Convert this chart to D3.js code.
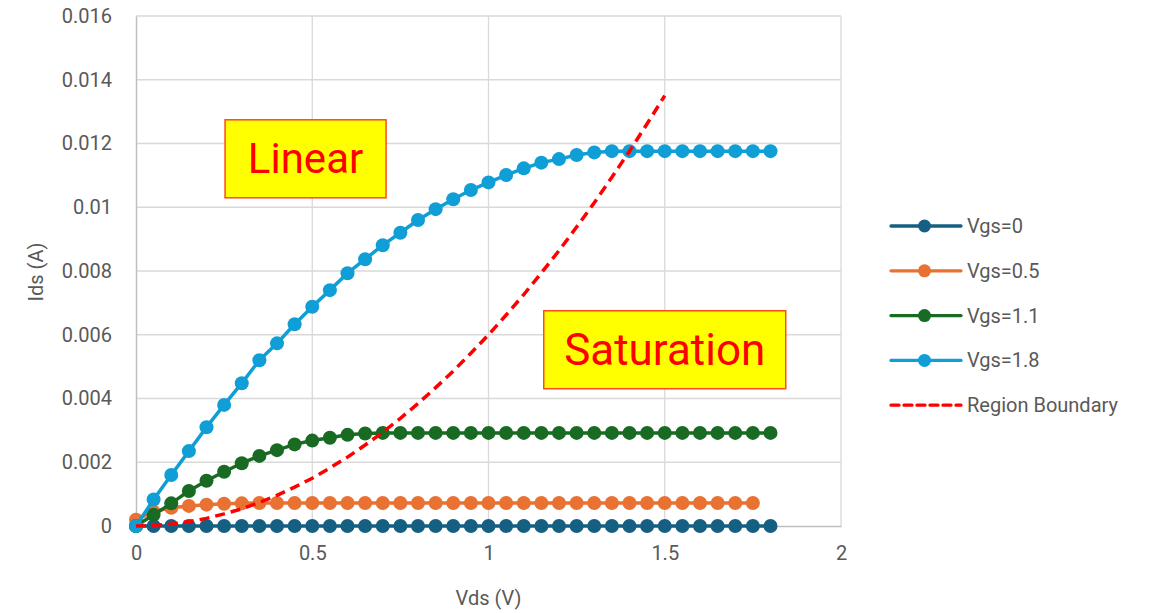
<!DOCTYPE html>
<html>
<head>
<meta charset="utf-8">
<script src="https://cdn.jsdelivr.net/npm/d3@7"></script>
<style>
  body { margin: 0; background: #fff; }
  svg text { font-family: Roboto, "Liberation Sans", sans-serif; }
</style>
</head>
<body>
<div id="app"></div>
<script>
// Vds sweep (V)
const vds = [0, 0.05, 0.1, 0.15, 0.2, 0.25, 0.3, 0.35, 0.4, 0.45, 0.5, 0.55, 0.6, 0.65, 0.7, 0.75,
  0.8, 0.85, 0.9, 0.95, 1, 1.05, 1.1, 1.15, 1.2, 1.25, 1.3, 1.35, 1.4, 1.45, 1.5, 1.55, 1.6,
  1.65, 1.7, 1.75, 1.8]

// Ids (A) per Vgs
const idsVgs0 = [0, 0, 0, 0, 0, 0, 0, 0, 0, 0, 0, 0, 0, 0, 0, 0, 0, 0, 0, 0, 0, 0, 0, 0, 0, 0, 0, 0,
  0, 0, 0, 0, 0, 0, 0, 0, 0]
const idsVgs05 = [0.0002, 0.00045, 0.00057, 0.00063, 0.00067, 0.0007, 0.00071, 0.00072, 0.00072,
  0.00072, 0.00072, 0.00072, 0.00072, 0.00072, 0.00072, 0.00072, 0.00072, 0.00072, 0.00072,
  0.00072, 0.00072, 0.00072, 0.00072, 0.00072, 0.00072, 0.00072, 0.00072, 0.00072, 0.00072,
  0.00072, 0.00072, 0.00072, 0.00072, 0.00072, 0.00072, 0.00072]
const idsVgs11 = [0, 0.00035, 0.00071, 0.0011, 0.00142, 0.0017, 0.00197, 0.0022, 0.00238, 0.00256,
  0.00268, 0.00277, 0.00286, 0.0029, 0.00292, 0.00292, 0.00292, 0.00292, 0.00292, 0.00292,
  0.00292, 0.00292, 0.00292, 0.00292, 0.00292, 0.00292, 0.00292, 0.00292, 0.00292, 0.00292,
  0.00292, 0.00292, 0.00292, 0.00292, 0.00292, 0.00292, 0.00292]
const idsVgs18 = [0, 0.00083, 0.0016, 0.00235, 0.0031, 0.0038, 0.00448, 0.0052, 0.00573, 0.00633,
  0.00688, 0.0074, 0.00793, 0.00837, 0.00881, 0.0092, 0.0096, 0.00994, 0.01025, 0.01054, 0.01078,
  0.01101, 0.01122, 0.0114, 0.01151, 0.01164, 0.01172, 0.01176, 0.01176, 0.01176, 0.01176,
  0.01176, 0.01176, 0.01176, 0.01176, 0.01176, 0.01176]

// linear / saturation boundary, up to Vds = 1.5
const boundary = [0, 0.00002, 0.00006, 0.00014, 0.00024, 0.00038, 0.00054, 0.00074, 0.00096,
  0.00122, 0.0015, 0.00182, 0.00216, 0.00254, 0.00294, 0.00338, 0.00384, 0.00434, 0.00486,
  0.00542, 0.006, 0.00662, 0.00726, 0.00794, 0.00864, 0.00938, 0.01014, 0.01094, 0.01176,
  0.01262, 0.0135]

const seriesNames = ['Vgs=0', 'Vgs=0.5', 'Vgs=1.1', 'Vgs=1.8']
const seriesColors = ['#156082', '#e97132', '#196b24', '#0f9ed5']
const xTicks = [0, 0.5, 1, 1.5, 2]
const yTicks = [0, 0.002, 0.004, 0.006, 0.008, 0.01, 0.012, 0.014, 0.016]
const regionLabels = [
  {text: 'Linear', vds: 0.481, ids: 0.01152},
  {text: 'Saturation', vds: 1.5, ids: 0.00553}
]

const size = {
  width: 1155,
  height: 613,
  left: 136,
  right: 841,
  top: 16,
  bottom: 526
}

const seriesData = [idsVgs0, idsVgs05, idsVgs11, idsVgs18].map((ids, i) => ({
  name: seriesNames[i],
  color: seriesColors[i],
  points: ids.map((v, j) => [vds[j], v])
}))
const boundaryPoints = boundary.map((v, j) => [vds[j], v])

const x = d3.scaleLinear().domain([0, 2]).range([size.left, size.right])
const y = d3.scaleLinear().domain([0, 0.016]).range([size.bottom, size.top])

const svg = d3.select('#app').append('svg')
  .attr('width', size.width)
  .attr('height', size.height)

// gridlines
svg.append('g')
  .selectAll('line')
  .data(yTicks.slice(1))
  .enter()
  .append('line')
  .attr('x1', size.left).attr('x2', size.right)
  .attr('y1', d => y(d)).attr('y2', d => y(d))
  .attr('stroke', '#d9d9d9').attr('stroke-width', 1.3)

svg.append('g')
  .selectAll('line')
  .data(xTicks.slice(1))
  .enter()
  .append('line')
  .attr('x1', d => x(d)).attr('x2', d => x(d))
  .attr('y1', size.top).attr('y2', size.bottom)
  .attr('stroke', '#d9d9d9').attr('stroke-width', 1.3)

// axes
const yAxis = svg.append('g')
  .attr('transform', `translate(${size.left},0)`)
  .call(d3.axisLeft(y).tickValues(yTicks).tickSize(0).tickPadding(24).tickFormat(d => d3.format('')(+d.toFixed(3))))
const xAxis = svg.append('g')
  .attr('transform', `translate(0,${size.bottom})`)
  .call(d3.axisBottom(x).tickValues(xTicks).tickSize(0).tickPadding(20).tickFormat(d => d))

;[xAxis, yAxis].forEach(a => {
  a.select('.domain').attr('stroke', '#bfbfbf').attr('stroke-width', 1.5)
  a.selectAll('text').attr('font-size', 20).attr('fill', '#595959')
    .attr('font-family', 'Roboto, "Liberation Sans", sans-serif')
})

svg.append('text')
  .attr('transform', `translate(36,${(size.top + size.bottom) / 2 + 1}) rotate(-90)`)
  .attr('text-anchor', 'middle')
  .attr('dominant-baseline', 'central')
  .attr('font-size', 20)
  .attr('fill', '#595959')
  .text('Ids (A)')

svg.append('text')
  .attr('x', (size.left + size.right) / 2)
  .attr('y', 598)
  .attr('text-anchor', 'middle')
  .attr('dominant-baseline', 'central')
  .attr('font-size', 20)
  .attr('fill', '#595959')
  .text('Vds (V)')

// series
const line = d3.line().x(d => x(d[0])).y(d => y(d[1]))

const series = svg.append('g')
  .selectAll('g')
  .data(seriesData)
  .enter()
  .append('g')

series.append('path')
  .attr('d', d => line(d.points))
  .attr('fill', 'none')
  .attr('stroke', d => d.color)
  .attr('stroke-width', 3.5)
  .attr('stroke-linejoin', 'round')

series.each(function (s) {
  d3.select(this)
    .selectAll('circle')
    .data(s.points)
    .enter()
    .append('circle')
    .attr('cx', d => x(d[0]))
    .attr('cy', d => y(d[1]))
    .attr('r', 7)
    .attr('fill', s.color)
})

svg.append('path')
  .attr('d', line(boundaryPoints))
  .attr('fill', 'none')
  .attr('stroke', '#ff0000')
  .attr('stroke-width', 3.5)
  .attr('stroke-dasharray', '10,6')

// region labels
const labels = svg.append('g')
  .selectAll('g')
  .data(regionLabels)
  .enter()
  .append('g')

labels.append('text')
  .attr('x', d => x(d.vds))
  .attr('y', d => y(d.ids))
  .attr('text-anchor', 'middle')
  .attr('dominant-baseline', 'central')
  .attr('font-family', 'Lato, "Open Sans", sans-serif')
  .attr('font-size', d => d.text === 'Linear' ? 42 : 44)
  .attr('fill', '#ff0000')
  .text(d => d.text)

labels.each(function (d) {
  const g = d3.select(this)
  const b = g.select('text').node().getBBox()
  const cx = b.x + b.width / 2, cy = b.y + b.height / 2
  const w = d.text === 'Linear' ? 161 : 242, h = 78
  g.insert('rect', 'text')
    .attr('x', cx - w / 2)
    .attr('y', cy - h / 2)
    .attr('width', w)
    .attr('height', h)
    .attr('fill', '#ffff00')
    .attr('stroke', '#ff4a1a')
    .attr('stroke-width', 1.5)
})

// legend
const legendItems = seriesData.map(s => ({name: s.name, color: s.color, marker: true}))
legendItems.push({name: 'Region Boundary', color: '#ff0000', marker: false})

const legend = svg.append('g')
  .selectAll('g')
  .data(legendItems)
  .enter()
  .append('g')
  .attr('transform', (d, i) => `translate(891,${226 + i * 44.8})`)

legend.append('line')
  .attr('x1', 0).attr('x2', 70)
  .attr('stroke', d => d.color)
  .attr('stroke-width', 3.3)
  .attr('stroke-linecap', 'round')
  .attr('stroke-dasharray', d => d.marker ? null : '8,5')

legend.filter(d => d.marker)
  .append('circle')
  .attr('cx', 33.5)
  .attr('r', 6.5)
  .attr('fill', d => d.color)

legend.append('text')
  .attr('x', 76)
  .attr('dominant-baseline', 'central')
  .attr('font-size', 20)
  .attr('fill', '#595959')
  .text(d => d.name)
</script>
</body>
</html>
